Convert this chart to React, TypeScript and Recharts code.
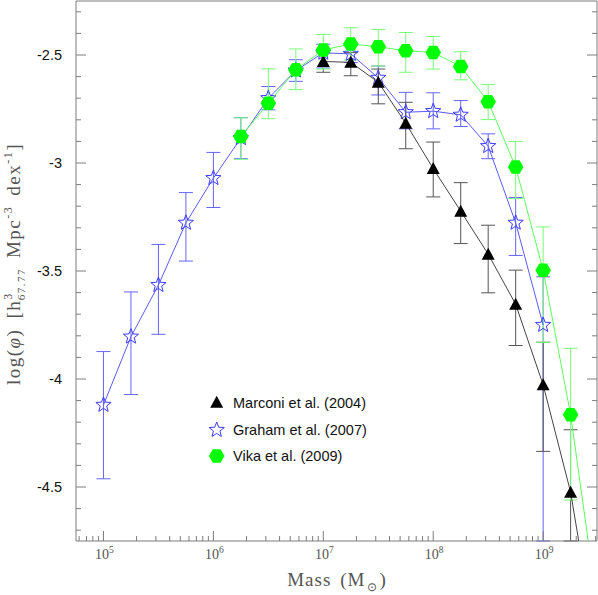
import React from 'react';
import { ComposedChart, Scatter, XAxis, YAxis, ErrorBar, Legend } from 'recharts';

// ---- Data (log10 of mass in solar masses, log10 phi) ----
const grahamLogMass = [5, 5.25, 5.5, 5.75, 6, 6.25, 6.5, 6.75, 7, 7.25, 7.5, 7.75, 8, 8.25, 8.5, 8.75, 9];
const grahamPhi = [-4.12, -3.804, -3.565, -3.277, -3.07, -2.885, -2.70, -2.572, -2.49, -2.495, -2.606, -2.765, -2.76, -2.777, -2.922, -3.277, -3.75];
const grahamErrUp = [0.247, 0.207, 0.188, 0.14, 0.119, 0.095, 0.054, 0.05, 0.04, 0.04, 0.055, 0.092, 0.085, 0.066, 0.057, 0.117, 0.223];
const grahamErrDown = [0.342, 0.268, 0.228, 0.177, 0.136, 0.095, 0.054, 0.05, 0.07, 0.04, 0.079, 0.077, 0.082, 0.054, 0.058, 0.151, 1.0];

const marconiLogMass = [7, 7.25, 7.5, 7.75, 8, 8.25, 8.5, 8.75, 9, 9.25, 9.5];
const marconiPhi = [-2.53, -2.534, -2.626, -2.816, -3.026, -3.223, -3.422, -3.654, -4.027, -4.524, -5.29];
const marconiErrUp = [0.04, 0.045, 0.061, 0.097, 0.123, 0.132, 0.134, 0.158, 0.197, 0.289, 0];
const marconiErrDown = [0.05, 0.062, 0.1, 0.118, 0.131, 0.15, 0.179, 0.191, 0.308, 0.226, 0];

const vikaLogMass = [6.25, 6.5, 6.75, 7, 7.25, 7.5, 7.75, 8, 8.25, 8.5, 8.75, 9, 9.25, 9.5];
const vikaPhi = [-2.877, -2.723, -2.568, -2.477, -2.449, -2.462, -2.48, -2.488, -2.553, -2.716, -3.019, -3.496, -4.165, -5.08];
const vikaErrUp = [0.086, 0.159, 0.096, 0.072, 0.075, 0.08, 0.084, 0.074, 0.068, 0.079, 0.119, 0.2, 0.307, 0];
const vikaErrDown = [0.106, 0.072, 0.092, 0.088, 0.074, 0.089, 0.1, 0.077, 0.062, 0.083, 0.146, 0.334, 0.395, 0];

const seriesNames = ['Marconi et al. (2004)', 'Graham et al. (2007)', 'Vika et al. (2009)'];

const xDomain = [4.75, 9.49];
const yDomain = [-4.75, -2.25];
const xMajorTicks = [5, 6, 7, 8, 9];
const yMajorTicks = [-4.5, -4, -3.5, -3, -2.5];
const yMinorTicks = [-4.7, -4.6, -4.4, -4.3, -4.2, -4.1, -3.9, -3.8, -3.7, -3.6, -3.4, -3.3, -3.2, -3.1, -2.9, -2.8, -2.7, -2.6, -2.4, -2.3];

const build = (xs: number[], ys: number[], up: number[], down: number[]) =>
  xs.map((x, i) => ({ x, y: ys[i], err: [down[i], up[i]] }));

const grahamData = build(grahamLogMass, grahamPhi, grahamErrUp, grahamErrDown);
const marconiData = build(marconiLogMass, marconiPhi, marconiErrUp, marconiErrDown);
const vikaData = build(vikaLogMass, vikaPhi, vikaErrUp, vikaErrDown);

const xMinorTicks: number[] = [];
for (let d = 4; d <= 9; d++) {
  for (let k = 2; k <= 9; k++) {
    const v = d + Math.log10(k);
    if (v > xDomain[0] && v < xDomain[1]) xMinorTicks.push(v);
  }
}
const xTicks = [...xMajorTicks, ...xMinorTicks].sort((a, b) => a - b);
const yTicks = [...yMajorTicks, ...yMinorTicks].sort((a, b) => a - b);

// ---- Style ----
const AXIS = '#7c7c7c';
const LABEL = '#555555';
const SERIF = "'Liberation Serif', 'Times New Roman', serif";
const SANS = "'Liberation Sans', Arial, sans-serif";

const GREEN = '#00ff00';
const GREEN_LINE = '#5cff5c';
const GREEN_ERR = '#78ff78';
const BLUE = '#3c3cff';
const BLUE_LINE = '#5a5aff';
const BLUE_ERR = '#6464ff';
const BLACK = '#000000';
const BLACK_LINE = '#444444';
const BLACK_ERR = '#555555';

const isMajor = (v: number, list: number[]) => list.some((t) => Math.abs(t - v) < 1e-6);

function Triangle({ cx, cy }: any) {
  return <polygon points={`${cx - 6.5},${cy + 5.5} ${cx + 6.5},${cy + 5.5} ${cx},${cy - 6.5}`} fill={BLACK} />;
}
function Star({ cx, cy }: any) {
  const pts: string[] = [];
  for (let i = 0; i < 10; i++) {
    const r = i % 2 === 0 ? 8 : 3.4;
    const a = -Math.PI / 2 + (i * Math.PI) / 5;
    pts.push(`${cx + r * Math.cos(a)},${cy + r * Math.sin(a)}`);
  }
  return <polygon points={pts.join(' ')} fill="none" stroke={BLUE} strokeWidth={1} />;
}
function Hexagon({ cx, cy }: any) {
  const pts: string[] = [];
  for (let i = 0; i < 6; i++) {
    const a = (i * Math.PI) / 3;
    pts.push(`${cx + 7.8 * Math.cos(a)},${cy + 7.8 * Math.sin(a)}`);
  }
  return <polygon points={pts.join(' ')} fill={GREEN} />;
}

function XTickBottom(props: any) {
  const { x, y, payload } = props;
  const v = payload.value;
  const major = isMajor(v, xMajorTicks);
  return (
    <g>
      <line x1={x} y1={y} x2={x} y2={y - (major ? 10 : 5)} stroke={AXIS} />
      {major && (
        <text x={x + 1} y={y + 18} textAnchor="middle" fontFamily={SERIF} fontSize={14} fill={LABEL}>
          10<tspan dy={-6} fontSize={9.5}>{Math.round(v)}</tspan>
        </text>
      )}
    </g>
  );
}
function XTickTop(props: any) {
  const { x, y, payload } = props;
  const major = isMajor(payload.value, xMajorTicks);
  return <line x1={x} y1={y} x2={x} y2={y + (major ? 10 : 5)} stroke={AXIS} />;
}
function YTickLeft(props: any) {
  const { x, y, payload } = props;
  const v = payload.value;
  const major = isMajor(v, yMajorTicks);
  return (
    <g>
      <line x1={x} y1={y} x2={x + (major ? 10 : 5)} y2={y} stroke={AXIS} />
      {major && (
        <text x={x - 14} y={y} dy="0.36em" textAnchor="end" fontFamily={SANS} fontSize={14.5} fill="#111">
          {String(v)}
        </text>
      )}
    </g>
  );
}
function YTickRight(props: any) {
  const { x, y, payload } = props;
  const major = isMajor(payload.value, yMajorTicks);
  return <line x1={x} y1={y} x2={x - (major ? 10 : 5)} y2={y} stroke={AXIS} />;
}

function XLabel() {
  return (
    <text x={337} y={586} textAnchor="middle" fontFamily={SERIF} fontSize={19} fill={LABEL} letterSpacing={1}>
      Mass<tspan dx={9}>(M</tspan>
      <tspan dx={1} dy={5} fontSize={12}>⊙</tspan>
      <tspan dx={2} dy={-5}>)</tspan>
    </text>
  );
}
function YLabel() {
  return (
    <text transform="translate(20,264) rotate(-90)" textAnchor="middle" fontFamily={SERIF} fontSize={19} fill={LABEL} letterSpacing={1.5}>
      log(<tspan fontStyle="italic">φ</tspan>)
      <tspan dx={10}>[h</tspan>
      <tspan dy={-8} fontSize={12}>3</tspan>
      <tspan dx={-8} dy={13} fontSize={11}>67.77</tspan>
      <tspan dx={10} dy={-5}>Mpc</tspan>
      <tspan dy={-8} fontSize={12}>-3</tspan>
      <tspan dx={10} dy={8}>dex</tspan>
      <tspan dy={-8} fontSize={12}>-1</tspan>
      <tspan dy={8}>]</tspan>
    </text>
  );
}

function LegendContent() {
  const rows = [
    { name: seriesNames[0], el: <Triangle cx={16.7} cy={14.3} />, y: 14.3 },
    { name: seriesNames[1], el: <Star cx={16.7} cy={42} />, y: 42 },
    { name: seriesNames[2], el: <Hexagon cx={16.7} cy={68} />, y: 68 },
  ];
  return (
    <svg width={190} height={82}>
      {rows.map((r) => (
        <g key={r.name}>
          {r.el}
          <text x={33} y={r.y} dy="0.36em" fontFamily={SANS} fontSize={14.5} fill="#111">
            {r.name}
          </text>
        </g>
      ))}
    </svg>
  );
}

export default function App() {
  return (
    <div style={{ position: 'absolute', left: 0, top: 0, width: 598, height: 595, background: '#fff' }}>
      <ComposedChart width={598} height={595} margin={{ top: 0, right: 0, bottom: 0, left: 0 }}>
        <XAxis
          type="number"
          dataKey="x"
          domain={xDomain}
          allowDataOverflow
          ticks={xTicks}
          interval={0}
          tickSize={0}
          tickMargin={0}
          tickLine={false}
          tick={<XTickBottom />}
          axisLine={{ stroke: AXIS }}
          height={54}
          label={{ content: () => <XLabel /> }}
        />
        <XAxis
          xAxisId="top"
          orientation="top"
          type="number"
          domain={xDomain}
          allowDataOverflow
          ticks={xTicks}
          interval={0}
          tickSize={0}
          tickMargin={0}
          tickLine={false}
          tick={<XTickTop />}
          axisLine={{ stroke: AXIS }}
          height={1}
        />
        <YAxis
          type="number"
          dataKey="y"
          domain={yDomain}
          allowDataOverflow
          ticks={yTicks}
          interval={0}
          tickSize={0}
          tickMargin={0}
          tickLine={false}
          tick={<YTickLeft />}
          axisLine={{ stroke: AXIS }}
          width={76}
          label={{ content: () => <YLabel /> }}
        />
        <YAxis
          yAxisId="right"
          orientation="right"
          type="number"
          domain={yDomain}
          allowDataOverflow
          ticks={yTicks}
          interval={0}
          tickSize={0}
          tickMargin={0}
          tickLine={false}
          tick={<YTickRight />}
          axisLine={{ stroke: AXIS }}
          width={1}
        />
        <Scatter
          name={seriesNames[1]}
          data={grahamData}
          isAnimationActive={false}
          line={{ stroke: BLUE_LINE, strokeWidth: 1 }}
          shape={(p: any) => <Star cx={p.cx} cy={p.cy} />}
        >
          <ErrorBar dataKey="err" direction="y" width={7} stroke={BLUE_ERR} strokeWidth={1} />
        </Scatter>
        <Scatter
          name={seriesNames[0]}
          data={marconiData}
          isAnimationActive={false}
          line={{ stroke: BLACK_LINE, strokeWidth: 1 }}
          shape={(p: any) => <Triangle cx={p.cx} cy={p.cy} />}
        >
          <ErrorBar dataKey="err" direction="y" width={7} stroke={BLACK_ERR} strokeWidth={1} />
        </Scatter>
        <Scatter
          name={seriesNames[2]}
          data={vikaData}
          isAnimationActive={false}
          line={{ stroke: GREEN_LINE, strokeWidth: 1 }}
          shape={(p: any) => <Hexagon cx={p.cx} cy={p.cy} />}
        >
          <ErrorBar dataKey="err" direction="y" width={7} stroke={GREEN_ERR} strokeWidth={1} />
        </Scatter>
        <Legend
          layout="vertical"
          align="center"
          verticalAlign="middle"
          wrapperStyle={{ left: 200, top: 388, width: 190, height: 82 }}
          content={() => <LegendContent />}
        />
      </ComposedChart>
    </div>
  );
}
